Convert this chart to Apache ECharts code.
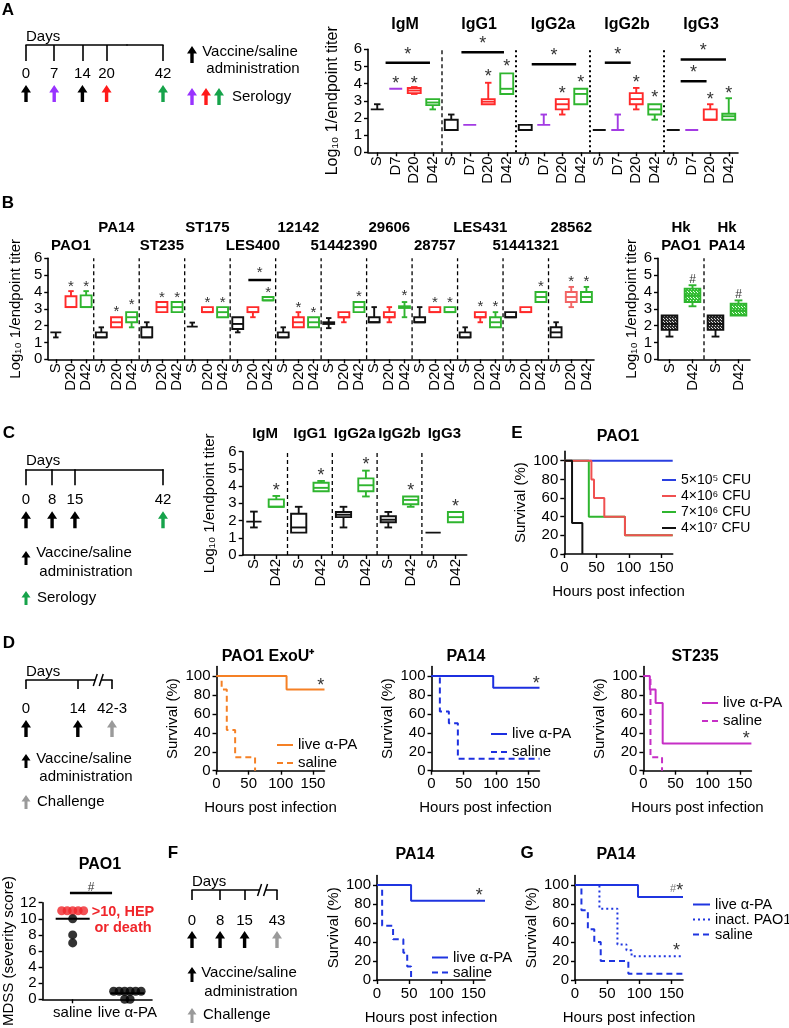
<!DOCTYPE html>
<html><head><meta charset="utf-8"><title>Vaccine figure</title>
<script src="https://cdn.jsdelivr.net/npm/echarts@6.0.0/dist/echarts.min.js"></script>
<style>html,body{margin:0;padding:0;background:#fff;}#chart{width:789px;height:1028px;}</style>
</head><body><div id="chart"></div>
<script>
// ======================= DATA =======================
// Panel A: Log10 1/endpoint titer, [min, Q1, median, Q3, max] for S, D7, D20, D42
const aIsotypes = ['IgM','IgG1','IgG2a','IgG2b','IgG3'];
const aTimepoints = ['S','D7','D20','D42'];
const aIgM   = [[2.5,2.5,2.5,2.5,2.8],[3.7,3.7,3.7,3.7,3.7],[3.4,3.45,3.6,3.75,3.8],[2.5,2.75,2.9,3.1,3.1]];
const aIgG1  = [[1.3,1.3,1.3,1.9,2.2],[1.6,1.6,1.6,1.6,1.6],[2.8,2.8,2.95,3.1,4.05],[3.4,3.4,3.7,4.6,4.6]];
const aIgG2a = [[1.3,1.3,1.3,1.6,1.6],[1.6,1.6,1.6,1.6,2.2],[2.2,2.5,2.8,3.1,3.1],[2.8,2.8,3.4,3.7,3.7]];
const aIgG2b = [[1.3,1.3,1.3,1.3,1.3],[1.3,1.3,1.3,1.3,2.2],[2.5,2.8,3.1,3.45,3.75],[1.9,2.2,2.5,2.8,2.8]];
const aIgG3  = [[1.3,1.3,1.3,1.3,1.3],[1.3,1.3,1.3,1.3,1.3],[1.9,1.9,1.9,2.5,2.8],[1.9,1.9,2.1,2.25,3.15]];
const aStars = [[1,4.2],[2,4.2],[6,4.6],[7,5.18],[10,3.63],[11,4.29],[14,4.29],[15,3.4],[18,3.26],[19,3.6]];
const aSigBars = [[0.45,2.85,5.22],[4.55,6.85,5.83],[8.35,10.75,5.13],[12.3,13.7,5.22],[16.4,18.85,5.41],[16.4,17.8,4.14]];
const aSeparators = [4,8,12,16];

// Panel B: strains, [min, Q1, median, Q3, max] for S, D20, D42
const bStrains = ['PAO1','PA14','ST235','ST175','LES400','12142','51442390','29606','28757','LES431','51441321','28562'];
const bTimepoints = ['S','D20','D42'];
const bPAO1     = [[1.3,1.6,1.6,1.6,1.6],[3.1,3.1,3.1,3.75,4.05],[3.1,3.1,3.1,3.8,4.05]];
const bPA14     = [[1.3,1.3,1.3,1.6,1.9],[1.9,1.9,2.2,2.5,2.5],[1.9,2.2,2.5,2.8,2.8]];
const bST235    = [[1.3,1.3,1.3,1.9,2.2],[2.8,2.8,3.1,3.4,3.4],[2.8,2.8,3.1,3.4,3.4]];
const bST175    = [[1.94,1.94,1.94,1.94,2.18],[2.8,2.8,2.8,3.1,3.1],[2.5,2.5,2.8,3.1,3.1]];
const bLES400   = [[1.6,1.8,2.1,2.5,2.5],[2.5,2.8,2.8,3.1,3.1],[3.5,3.5,3.5,3.7,3.7]];
const b12142    = [[1.3,1.3,1.3,1.6,1.9],[1.9,1.9,2.2,2.5,2.8],[1.9,1.9,2.2,2.5,2.5]];
const b51442390 = [[1.85,2.1,2.15,2.2,2.45],[2.2,2.5,2.5,2.8,2.8],[2.8,2.8,3.1,3.4,3.4]];
const b29606    = [[2.2,2.2,2.2,2.5,3.1],[2.2,2.5,2.5,2.8,3.1],[2.5,3.05,3.1,3.15,3.4]];
const b28757    = [[2.2,2.2,2.2,2.5,3.1],[2.8,2.8,2.8,3.1,3.1],[2.8,2.8,2.8,3.1,3.1]];
const bLES431   = [[1.3,1.3,1.3,1.6,1.9],[2.2,2.5,2.5,2.8,2.8],[1.9,1.9,2.2,2.5,2.8]];
const b51441321 = [[2.5,2.5,2.5,2.8,2.8],[2.8,2.8,2.8,3.1,3.1],[3.4,3.4,3.7,4.0,4.0]];
const b28562    = [[1.3,1.3,1.6,1.9,2.2],[3.1,3.4,3.7,4.0,4.3],[3.4,3.4,3.7,4.0,4.3]];
const bStars = [[1,4.5],[2,4.5],[4,3.03],[5,3.43],[7,3.82],[8,3.82],[10,3.56],[11,3.56],[14,4.12],[16,3.27],[17,2.93],[20,3.92],[23,3.95],[25,3.56],[26,3.56],[28,3.29],[29,3.29],[32,4.51],[34,4.81],[35,4.81]];
const bSigBars = [[12.7,14.2,4.71]];
const bSeparators = [3,6,9,12,15,18,21,24,27,30,33];

// Heat-killed panel
const hkStrains = ['Hk\nPAO1','Hk\nPA14'];
const hkTimepoints = ['S','D42'];
const hkPAO1 = [[1.35,1.75,2.1,2.6,2.6],[3.15,3.4,3.8,4.2,4.4]];
const hkPA14 = [[1.35,1.75,2.1,2.6,2.6],[2.6,2.6,2.9,3.3,3.5]];
const hkMarks = [[1,4.89],[3,4.0]];
const hkSeparators = [2];

// Panel C: [min, Q1, median, Q3, max] for S, D42
const cTimepoints = ['S','D42'];
const cIgM   = [[1.6,1.94,1.94,1.94,2.52],[2.8,2.8,2.8,3.23,3.43]];
const cIgG1  = [[1.3,1.3,1.6,2.4,2.8],[3.7,3.7,3.9,4.2,4.3]];
const cIgG2a = [[1.6,2.2,2.34,2.5,2.8],[3.4,3.7,4.05,4.45,4.9]];
const cIgG2b = [[1.6,1.9,2.05,2.25,2.5],[2.8,2.95,3.2,3.4,3.4]];
const cIgG3  = [[1.3,1.3,1.3,1.3,1.3],[1.9,1.9,2.2,2.5,2.5]];
const cStars = [[1,3.97],[3,4.8],[5,5.48],[7,3.97],[9,3.04]];
const cSeparators = [2,4,6,8];

// Timelines (days); schematic axes are compressed where the drawing is compressed
const tlADays = [0,7,14,20,42];  const tlAKinds = ['vaccine','D7','vaccine','D20','D42'];
const tlACompress = [25, 33];
const tlCDays = [0,8,15,42];     const tlCKinds = ['vaccine','vaccine','vaccine','D42'];
const tlDDays = [0,14,42];       const tlDLabels = ['0','14','42-3']; const tlDKinds = ['vaccine','vaccine','challenge'];
const tlDBreak = [19.4, 38.4];
const tlFDays = [0,8,15,43];     const tlFKinds = ['vaccine','vaccine','vaccine','challenge'];
const tlFBreak = [20, 39];

// Survival curves: [hours post infection, survival %]
const hourTicks = [0,50,100,150];
const survivalTicks = [0,20,40,60,80,100];
const eDoses = ['5×10⁵ CFU','4×10⁶ CFU','7×10⁶ CFU','4×10⁷ CFU'];
const e5x10e5 = [[0,100],[168,100]];
const e4x10e6 = [[0,100],[42,80],[46,60],[62,40],[94,20],[168,20]];
const e7x10e6 = [[0,100],[38,40],[94,20],[168,20]];
const e4x10e7 = [[0,100],[12,33.3],[28,0]];
const d1Live   = [[0,100],[109,85.7],[168,85.7]];
const d1Saline = [[0,100],[8,85.7],[16,42.9],[29,14.3],[60,0]];
const d1Stars  = [[162,94]];
const d2Live   = [[0,100],[96,87.5],[168,87.5]];
const d2Saline = [[0,100],[13,62.5],[27,50],[41,12.5],[168,12.5]];
const d2Stars  = [[163,96]];
const d3Live   = [[0,100],[10,85.7],[19,71.4],[30,28.6],[168,28.6]];
const d3Saline = [[0,100],[11,14.3],[29,0]];
const d3Stars  = [[160,38]];
const fLive    = [[0,100],[53,83.3],[168,83.3]];
const fSaline  = [[0,100],[8,57.1],[25,42.9],[41,28.6],[47,14.3],[53,0]];
const fStars   = [[159,93]];
const gLive    = [[0,100],[98,87.5],[168,87.5]];
const gInact   = [[0,100],[38,75],[66,37.5],[80,31.3],[88,25],[168,25]];
const gSaline  = [[0,100],[10,73.3],[20,53.3],[30,40],[40,20],[83,6.7],[168,6.7]];
const gStars   = [[158,98],[158,35]];
const gStarTexts = ['{h|#}*','*'];

// MDSS panel
const mdssGroups = ['saline','live α-PA'];
const mdssSaline = [11,11,11,11,11,10,8,7];
const mdssLive   = [1,1,1,1,1,1,0,0];
const mdssMeans  = [10,0.75];
const mdssSig    = [[-0.05,0.72,13.2]];

// ======================= BUILD =======================
const FONT = "'Liberation Sans', Arial, Helvetica, sans-serif";
const TP_COLOR = {S:'#111111', D7:'#a33be3', D20:'#ff2a2a', D42:'#2fb52f'};
const ARROW_COLOR = {vaccine:'#000000', D7:'#9933ff', D20:'#ff1a1a', D42:'#16a34a', challenge:'#9a9a9a'};
const grids=[], xAxes=[], yAxes=[], series=[], legends=[], graphics=[];
const add=(arr,o)=>{arr.push(o);return arr.length-1;};
const AX_LINE={show:true,onZero:false,lineStyle:{color:'#000',width:1.6}};
const TICK={show:true,length:4,lineStyle:{color:'#000',width:1.4}};
const lbl=o=>Object.assign({color:'#000',fontFamily:FONT,fontSize:15},o||{});
const ZW='\u200b';

function makePattern(bg, dot){
  const cv=document.createElement('canvas'); cv.width=3; cv.height=3;
  const ctx=cv.getContext('2d'); ctx.fillStyle=bg; ctx.fillRect(0,0,3,3);
  ctx.fillStyle=dot; ctx.fillRect(1,1,1,1); ctx.fillRect(0,0,1,1);
  return {image:cv, repeat:'repeat'};
}
function arrowPts(x,yb,H,hw,hh,sw){const yt=yb-H;return [[x,yt],[x+hw,yt+hh],[x+sw/2,yt+hh],[x+sw/2,yb],[x-sw/2,yb],[x-sw/2,yt+hh],[x-hw,yt+hh]];}
function txtEl(x,y,text,o){return {type:'text',x:x,y:y,silent:true,style:Object.assign({text:text,fill:'#000',fontFamily:FONT,fontSize:15,align:'center',verticalAlign:'middle'},o||{})};}
function arrowEl(x,yb,H,color,small){return {type:'polygon',silent:true,shape:{points:small?arrowPts(x,yb,H,4.5,6.5,3):arrowPts(x,yb,H,5,7.5,3.4)},style:{fill:color}};}

function textMarkSeries(xi,yi,data,size,texts,color){
  return {type:'custom',xAxisIndex:xi,yAxisIndex:yi,data:data.map(d=>[d[0],d[1]]),encode:{x:0,y:1},silent:true,z:5,clip:false,
    renderItem:(p,api)=>{const pt=api.coord([api.value(0),api.value(1)]);const t=texts?texts[p.dataIndex]:'*';
      return {type:'text',x:pt[0],y:pt[1]+size*0.22,style:{text:t,fontSize:size,fontFamily:FONT,fill:color||'#333',align:'center',verticalAlign:'middle',
        rich:{h:{fontSize:11,fontFamily:FONT,fill:'#777',padding:[0,0,4,0]}}}};}};
}
function sigBarSeries(xi,yi,data,isCat,size,mark){
  return {type:'custom',xAxisIndex:xi,yAxisIndex:yi,data:data,encode:{x:[0,1],y:2},silent:true,z:5,clip:false,
    renderItem:(p,api)=>{
      const xAt=v=>{ if(!isCat) return api.coord([v,0])[0]; const f=Math.floor(v); const band=api.size([1,0])[0]; return api.coord([f,0])[0]+(v-f)*band; };
      const x1=xAt(api.value(0)), x2=xAt(api.value(1)), y=api.coord([0,api.value(2)])[1];
      return {type:'group',children:[
        {type:'line',shape:{x1:x1,y1:y,x2:x2,y2:y},style:{stroke:'#000',lineWidth:2.5}},
        {type:'text',x:(x1+x2)/2,y:y-size*0.45,style:{text:mark||'*',fontSize:size,fontFamily:FONT,fill:'#333',align:'center',verticalAlign:'middle'}}]};}};
}

function boxPanel(cfg){
  const gi=add(grids,{left:cfg.left,top:cfg.top,width:cfg.width,height:cfg.height});
  const xi=add(xAxes,{type:'category',gridIndex:gi,data:cfg.cats,boundaryGap:true,axisLine:AX_LINE,
    axisTick:Object.assign({alignWithLabel:true},TICK),axisLabel:lbl({interval:0,rotate:90,margin:4}),splitLine:{show:false}});
  add(xAxes,{type:'category',gridIndex:gi,position:'top',data:cfg.titles,boundaryGap:true,axisLine:{show:false,onZero:false},axisTick:{show:false},splitLine:{show:false},
    axisLabel:lbl({interval:0,fontWeight:'bold',fontSize:cfg.titleSize,margin:cfg.titleMargin,lineHeight:18,formatter:cfg.titleFmt||'{value}'})});
  const yi=add(yAxes,{type:'value',gridIndex:gi,min:0,max:6,interval:1,axisLine:AX_LINE,axisTick:TICK,splitLine:{show:false},
    axisLabel:lbl({margin:6}),name:'Log₁₀ 1/endpoint titer',nameLocation:'middle',nameGap:cfg.nameGap,nameTextStyle:lbl({fontSize:cfg.nameSize||15})});
  series.push({type:'custom',xAxisIndex:xi,yAxisIndex:yi,data:cfg.seps.map(k=>[k,0]),encode:{x:0,y:1},silent:true,z:1,
    renderItem:(p,api)=>{const k=api.value(0);const band=api.size([1,0])[0];const x=api.coord([k,0])[0]-band/2;
      const y0=api.coord([k,0])[1], y1=api.coord([k,6])[1]; const dotted=cfg.sepStyle(p.dataIndex)==='dotted';
      return {type:'line',shape:{x1:x,y1:y0,x2:x,y2:y1},style:{stroke:'#000',lineWidth:dotted?2:1.3,lineDash:dotted?[2,3]:[4,3]}};}});
  series.push({type:'custom',xAxisIndex:xi,yAxisIndex:yi,data:cfg.boxes.map((b,i)=>[i].concat(b)),encode:{x:0,y:[1,2,3,4,5]},silent:true,z:3,
    renderItem:(p,api)=>{
      const i=api.value(0), band=api.size([1,0])[0], w=band*cfg.boxRatio, cap=w*0.5;
      const x=api.coord([i,0])[0], Y=k=>api.coord([i,api.value(k)])[1];
      const ymin=Y(1),yq1=Y(2),ymed=Y(3),yq3=Y(4),ymax=Y(5);
      const col=cfg.colorOf?cfg.colorOf(i):TP_COLOR[cfg.cats[i]]; const lw=1.9;
      const fill=cfg.fillOf?cfg.fillOf(cfg.cats[i]):'#fff';
      const st=()=>({stroke:col,lineWidth:lw});
      const ch=[];
      if(yq3-ymax>0.5){ch.push({type:'line',shape:{x1:x,y1:yq3,x2:x,y2:ymax},style:st()});ch.push({type:'line',shape:{x1:x-cap/2,y1:ymax,x2:x+cap/2,y2:ymax},style:st()});}
      if(ymin-yq1>0.5){ch.push({type:'line',shape:{x1:x,y1:yq1,x2:x,y2:ymin},style:st()});ch.push({type:'line',shape:{x1:x-cap/2,y1:ymin,x2:x+cap/2,y2:ymin},style:st()});}
      ch.push({type:'rect',shape:{x:x-w/2,y:yq3,width:w,height:Math.max(0,yq1-yq3)},style:{fill:fill,stroke:col,lineWidth:lw}});
      if(yq1-yq3>1) ch.push({type:'line',shape:{x1:x-w/2,y1:ymed,x2:x+w/2,y2:ymed},style:st()});
      return {type:'group',children:ch};}});
  if(cfg.stars) series.push(textMarkSeries(xi,yi,cfg.stars,cfg.starSize,cfg.starTexts,cfg.starColor));
  if(cfg.bars) series.push(sigBarSeries(xi,yi,cfg.bars,true,cfg.starSize));
}

function survPanel(cfg){
  const gi=add(grids,{left:cfg.left,top:cfg.top,width:cfg.width,height:cfg.height});
  const xi=add(xAxes,{type:'value',gridIndex:gi,min:0,max:168,axisLine:AX_LINE,axisTick:Object.assign({customValues:hourTicks},TICK),
    axisLabel:lbl({customValues:hourTicks,margin:6}),splitLine:{show:false},name:'Hours post infection',nameLocation:'middle',nameGap:30,nameTextStyle:lbl()});
  const yi=add(yAxes,{type:'value',gridIndex:gi,min:0,max:110,axisLine:AX_LINE,axisTick:Object.assign({customValues:survivalTicks},TICK),
    axisLabel:lbl({customValues:survivalTicks,margin:6}),splitLine:{show:false},name:'Survival (%)',nameLocation:'middle',nameGap:36,nameTextStyle:lbl()});
  cfg.curves.forEach(c=>series.push({type:'line',name:c.name,xAxisIndex:xi,yAxisIndex:yi,data:c.data,step:'end',symbol:'none',showSymbol:false,silent:true,z:c.z||2,
    lineStyle:{color:c.color,width:2,type:c.dash||'solid'},itemStyle:{color:c.color}}));
  if(cfg.stars) series.push(textMarkSeries(xi,yi,cfg.stars,18,cfg.starTexts));
  legends.push(Object.assign({orient:'vertical',data:cfg.legendOrder||cfg.curves.map(c=>c.name),selectedMode:false,itemWidth:16,itemHeight:10,itemGap:2,
    itemStyle:{color:'rgba(0,0,0,0)',borderColor:'rgba(0,0,0,0)',borderWidth:0,opacity:0},
    textStyle:lbl({lineHeight:16}),formatter:n=>n.replace(/\u200b/g,'')},cfg.legend));
}

function timelinePanel(cfg){
  const gi=add(grids,{left:cfg.left,top:cfg.top,width:cfg.width,height:cfg.height});
  const xa={type:'value',gridIndex:gi,position:'top',min:0,max:cfg.max,axisLine:AX_LINE,
    axisTick:{show:true,inside:true,length:cfg.tickLen,customValues:cfg.days,lineStyle:{color:'#000',width:1.6}},
    axisLabel:lbl({inside:true,margin:cfg.labelMargin,customValues:cfg.days,formatter:v=>cfg.labels?cfg.labels[cfg.days.indexOf(v)]:String(v)}),
    splitLine:{show:false},name:'Days',nameLocation:'start',nameGap:0,nameTextStyle:lbl({align:'left',verticalAlign:'bottom',padding:[0,0,1,0]})};
  const brk=cfg.brk||cfg.compress;
  if(brk){xa.breaks=[{start:brk[0],end:brk[1],gap:cfg.brk?'1%':'0%'}];xa.breakArea={show:false};}
  const xi=add(xAxes,xa);
  const yi=add(yAxes,{type:'value',gridIndex:gi,min:0,max:1,show:false});
  series.push({type:'custom',xAxisIndex:xi,yAxisIndex:yi,data:cfg.days.map(d=>[d,0]),encode:{x:0,y:1},silent:true,clip:false,
    renderItem:(p,api)=>{const pt=api.coord([api.value(0),0]);
      return {type:'polygon',shape:{points:arrowPts(pt[0],pt[1],cfg.arrowH,5,7.5,3.4)},style:{fill:ARROW_COLOR[cfg.kinds[p.dataIndex]]}};}});
  if(cfg.brk) series.push({type:'custom',xAxisIndex:xi,yAxisIndex:yi,data:[[cfg.brk[0],1,cfg.brk[1]]],encode:{x:[0,2],y:1},silent:true,clip:false,z:5,
    renderItem:(p,api)=>{const a=api.coord([api.value(0),1]), b=api.coord([api.value(2),1]);const mx=(a[0]+b[0])/2, y=a[1];
      return {type:'group',children:[
        {type:'polygon',shape:{points:[[mx-5,y+6],[mx-1,y-6],[mx+5,y-6],[mx+1,y+6]]},style:{fill:'#fff'}},
        {type:'line',shape:{x1:mx-5,y1:y+6,x2:mx-1,y2:y-6},style:{stroke:'#000',lineWidth:1.5}},
        {type:'line',shape:{x1:mx+1,y1:y+6,x2:mx+5,y2:y-6},style:{stroke:'#000',lineWidth:1.5}}]};}});
}

const rep=(groups,tps)=>groups.flatMap(()=>tps);

// ---- Panel A ----
timelinePanel({left:26,top:45,width:137,height:57,max:42,days:tlADays,kinds:tlAKinds,tickLen:16,labelMargin:21,arrowH:17,compress:tlACompress});
boxPanel({left:368,top:49.3,width:370,height:103,cats:rep(aIsotypes,aTimepoints),titles:aIsotypes,titleSize:16,titleMargin:16,
  boxes:[].concat(aIgM,aIgG1,aIgG2a,aIgG2b,aIgG3),seps:aSeparators,sepStyle:i=>i===0?'dashed':'dotted',boxRatio:0.7,nameGap:27,nameSize:16,
  stars:aStars,starSize:18,bars:aSigBars});
// ---- Panel B ----
boxPanel({left:34,top:258.3,width:560,height:101,cats:rep(bStrains,bTimepoints),titles:bStrains,titleSize:15,titleMargin:3,
  titleFmt:(v,i)=>i%2?v+'\n ':v,
  boxes:[].concat(bPAO1,bPA14,bST235,bST175,bLES400,b12142,b51442390,b29606,b28757,bLES431,b51441321,b28562),
  seps:bSeparators,sepStyle:()=>'dashed',boxRatio:0.72,nameGap:14,stars:bStars,starSize:15,bars:bSigBars,
  colorOf:i=>(i===34?'#f26464':TP_COLOR[bTimepoints[i%3]])});
const patDark=makePattern('#2a2a2a','#d8d8d8'), patGreen=makePattern('#35c035','#e8ffe8');
boxPanel({left:658,top:258.3,width:92,height:101,cats:rep(hkStrains,hkTimepoints),titles:hkStrains,titleSize:15,titleMargin:3,
  boxes:[].concat(hkPAO1,hkPA14),seps:hkSeparators,sepStyle:()=>'dashed',boxRatio:0.68,nameGap:18,
  stars:hkMarks,starSize:12,starTexts:['#','#'],fillOf:c=>c==='S'?patDark:patGreen});
// ---- Panel C ----
timelinePanel({left:26,top:469.3,width:137,height:59,max:42,days:tlCDays,kinds:tlCKinds,tickLen:16,labelMargin:23,arrowH:17});
boxPanel({left:242.7,top:451.7,width:224,height:103.3,cats:rep(aIsotypes,cTimepoints),titles:aIsotypes,titleSize:15,titleMargin:9,
  boxes:[].concat(cIgM,cIgG1,cIgG2a,cIgG2b,cIgG3),seps:cSeparators,sepStyle:()=>'dashed',boxRatio:0.68,nameGap:25,stars:cStars,starSize:18});
// ---- Panel E ----
survPanel({left:564.3,top:451.4,width:108.4,height:102.6,
  curves:[{name:eDoses[0],data:e5x10e5,color:'#2a3fe0'},{name:eDoses[2],data:e7x10e6,color:'#2fb52f'},{name:eDoses[1],data:e4x10e6,color:'#f05050'},{name:eDoses[3],data:e4x10e7,color:'#111'}],
  legendOrder:eDoses,legend:{left:656,top:468,itemWidth:14,textStyle:lbl({fontSize:14,lineHeight:14})}});
// ---- Panel D ----
timelinePanel({left:26,top:680,width:86,height:57,max:42,days:tlDDays,labels:tlDLabels,kinds:tlDKinds,tickLen:9,labelMargin:21,arrowH:17,brk:tlDBreak});
survPanel({left:216.5,top:666.5,width:108,height:104.2,stars:d1Stars,
  curves:[{name:'live α-PA',data:d1Live,color:'#f58025'},{name:'saline',data:d1Saline,color:'#f58025',dash:[6,4]}],legend:{left:271,top:732}});
survPanel({left:431.5,top:666.5,width:108,height:104.2,stars:d2Stars,
  curves:[{name:'live α-PA'+ZW,data:d2Live,color:'#1c2fe0'},{name:'saline'+ZW,data:d2Saline,color:'#1c2fe0',dash:[6,4]}],legend:{left:485,top:721}});
survPanel({left:643.4,top:666.5,width:108,height:104.2,stars:d3Stars,
  curves:[{name:'live α-PA'+ZW+ZW,data:d3Live,color:'#c62fc6'},{name:'saline'+ZW+ZW,data:d3Saline,color:'#c62fc6',dash:[6,4]}],legend:{left:696,top:690}});
// ---- MDSS panel ----
(function(){
  const gi=add(grids,{left:42,top:902.7,width:110,height:102.3});
  const xi=add(xAxes,{type:'value',gridIndex:gi,min:-0.55,max:1.45,axisLine:AX_LINE,axisTick:Object.assign({customValues:[0,1]},TICK),
    axisLabel:lbl({customValues:[0,1],margin:6,formatter:v=>mdssGroups[Math.round(v)]}),splitLine:{show:false}});
  const yi=add(yAxes,{type:'value',gridIndex:gi,min:0,max:12,interval:2,axisLine:AX_LINE,axisTick:TICK,splitLine:{show:false},
    axisLabel:lbl({margin:6}),name:'MDSS (severity score)',nameLocation:'middle',nameGap:25,nameTextStyle:lbl()});
  const pts=[];
  [mdssSaline,mdssLive].forEach((vals,g)=>{
    const counts={}, seen={};
    vals.forEach(v=>counts[v]=(counts[v]||0)+1);
    vals.forEach(v=>{const k=seen[v]||0; seen[v]=k+1; const n=counts[v];
      pts.push({value:[g,v],symbolOffset:[(k-(n-1)/2)*5.5,0],itemStyle:{color:v>10?'#f0262b':'#000'}});});
  });
  series.push({type:'scatter',xAxisIndex:xi,yAxisIndex:yi,data:pts,symbolSize:9,silent:true,z:3});
  series.push({type:'custom',xAxisIndex:xi,yAxisIndex:yi,data:mdssMeans.map((m,g)=>[g,m]),encode:{x:0,y:1},silent:true,z:4,clip:false,
    renderItem:(p,api)=>{const pt=api.coord([api.value(0),api.value(1)]);
      return {type:'line',shape:{x1:pt[0]-17,y1:pt[1],x2:pt[0]+17,y2:pt[1]},style:{stroke:'#000',lineWidth:2}};}});
  series.push(sigBarSeries(xi,yi,mdssSig,false,12,'#'));
})();
// ---- Panel F ----
timelinePanel({left:192,top:890,width:85,height:58,max:43,days:tlFDays,kinds:tlFKinds,tickLen:10,labelMargin:23,arrowH:17,brk:tlFBreak});
survPanel({left:377,top:875.5,width:108,height:104.5,stars:fStars,
  curves:[{name:'live α-PA'+ZW+ZW+ZW,data:fLive,color:'#1f35e0'},{name:'saline'+ZW+ZW+ZW,data:fSaline,color:'#1f35e0',dash:[6,4]}],
  legend:{left:426,top:945,itemGap:0,textStyle:lbl({lineHeight:15})}});
// ---- Panel G ----
survPanel({left:575,top:875.5,width:108,height:104.5,stars:gStars,starTexts:gStarTexts,
  curves:[{name:'live α-PA'+ZW+ZW+ZW+ZW,data:gLive,color:'#1f35e0'},{name:'inact. PAO1',data:gInact,color:'#1f35e0',dash:[2,3]},{name:'saline'+ZW+ZW+ZW+ZW,data:gSaline,color:'#1f35e0',dash:[6,4]}],
  legend:{left:687,top:892,itemGap:0,itemWidth:17,textStyle:lbl({fontSize:14.5,lineHeight:15})}});

// ---- static annotations (panel letters, titles, timeline keys) ----
const L=(x,y,t)=>txtEl(x,y,t,{fontSize:17,fontWeight:'bold'});
const T=(x,y,t)=>txtEl(x,y,t,{fontSize:16,fontWeight:'bold'});
graphics.push(L(8,10,'A'),L(8,203,'B'),L(9,433,'C'),L(9,643,'D'),L(517,433,'E'),L(173,853,'F'),L(527,853,'G'));
graphics.push(T(268,657,'PAO1 ExoU⁺'),T(466,657,'PA14'),T(695,657,'ST235'),T(618,437,'PAO1'),T(415,855,'PA14'),T(616,855,'PA14'),T(100,865,'PAO1'));
graphics.push(arrowEl(192,63,17,ARROW_COLOR.vaccine),txtEl(250,52,'Vaccine/saline'),txtEl(253,69,'administration'));
graphics.push(arrowEl(192,105,17,ARROW_COLOR.D7),arrowEl(206,105,17,ARROW_COLOR.D20),arrowEl(219,105,17,ARROW_COLOR.D42),txtEl(232,97,'Serology',{align:'left'}));
graphics.push(arrowEl(26,565,14,ARROW_COLOR.vaccine,true),txtEl(84,553,'Vaccine/saline'),txtEl(86,572,'administration'));
graphics.push(arrowEl(26,605,14,ARROW_COLOR.D42,true),txtEl(37,598,'Serology',{align:'left'}));
graphics.push(arrowEl(26,768,14,ARROW_COLOR.vaccine,true),txtEl(84,759,'Vaccine/saline'),txtEl(86,777,'administration'));
graphics.push(arrowEl(26,809,14,ARROW_COLOR.challenge,true),txtEl(37,802,'Challenge',{align:'left'}));
graphics.push(arrowEl(192,982,15,ARROW_COLOR.vaccine,true),txtEl(249,973,'Vaccine/saline'),txtEl(251,992,'administration'));
graphics.push(arrowEl(192,1023,15,ARROW_COLOR.challenge,true),txtEl(203,1015,'Challenge',{align:'left'}));
graphics.push(txtEl(123,912,'>10, HEP',{fill:'#f0262b',fontWeight:'bold',fontSize:14.5}),txtEl(123,928,'or death',{fill:'#f0262b',fontWeight:'bold',fontSize:14.5}));

const chart=echarts.init(document.getElementById('chart'),null,{renderer:'canvas',width:789,height:1028});
chart.setOption({animation:false,backgroundColor:'#fff',textStyle:{fontFamily:FONT},
  grid:grids,xAxis:xAxes,yAxis:yAxes,series:series,legend:legends,graphic:{elements:graphics}});
</script></body></html>
